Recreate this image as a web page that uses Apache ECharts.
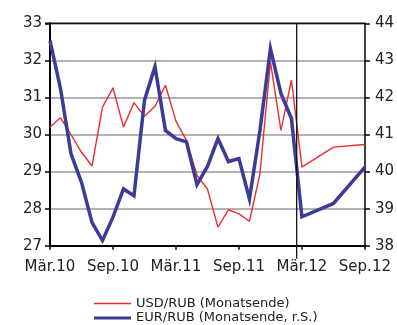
<!DOCTYPE html>
<html>
<head>
<meta charset="utf-8">
<script src="https://cdn.jsdelivr.net/npm/echarts@6/dist/echarts.min.js"></script>
<style>
  html, body { margin: 0; padding: 0; background: #fff; }
  #chart { width: 397px; height: 325px; }
</style>
</head>
<body>
<div id="chart"></div>
<script>
// Month offsets from March 2010 (monthly history, then quarterly outlook)
const monthOffset = [0, 1, 2, 3, 4, 5, 6, 7, 8, 9, 10, 11, 12, 13, 14, 15, 16, 17, 18, 19, 20, 21, 22, 23, 24, 27, 30];

// USD/RUB, end of month (left axis)
const usdRub = [30.20, 30.45, 30.00, 29.52, 29.15, 30.74, 31.26, 30.20, 30.86, 30.49, 30.76, 31.33, 30.36,
                29.84, 28.90, 28.53, 27.50, 27.97, 27.86, 27.66, 28.94, 31.96, 30.11, 31.47, 29.12, 29.66, 29.73];

// EUR/RUB, end of month (right axis)
const eurRub = [43.53, 42.24, 40.48, 39.71, 38.63, 38.14, 38.77, 39.53, 39.35, 41.92, 42.83, 41.11, 40.89,
                40.80, 39.65, 40.14, 40.89, 40.27, 40.35, 39.26, 41.11, 43.32, 42.11, 41.43, 38.78, 39.14, 40.12];

// x-axis tick labels, one every six months
const tickLabels = ['Mär.10', 'Sep.10', 'Mär.11', 'Sep.11', 'Mär.12', 'Sep.12'];

// boundary between history and outlook (month offset)
const outlookStart = 23.5;

const seriesNames = ['USD/RUB (Monatsende)', 'EUR/RUB (Monatsende, r.S.)'];

const FONT = 'DejaVu Sans';
const chart = echarts.init(document.getElementById('chart'), null, { renderer: 'canvas' });

const pairs = (vals) => vals.map((v, i) => [monthOffset[i], v]);

chart.setOption({
  animation: false,
  backgroundColor: '#ffffff',
  grid: { left: 50, right: 30.3, top: 23.3, bottom: 79.3, show: false },
  xAxis: {
    type: 'value', min: 0, max: 30, interval: 6,
    axisLine: { show: true, lineStyle: { color: '#000', width: 2 } },
    axisTick: { show: true, length: 4, lineStyle: { color: '#000', width: 1.5 } },
    axisLabel: {
      margin: 14, color: '#222', fontFamily: FONT, fontSize: 15,
      formatter: (v) => tickLabels[Math.round(v / 6)] || ''
    },
    splitLine: { show: false }
  },
  yAxis: [
    {
      type: 'value', min: 27, max: 33, interval: 1, position: 'left',
      axisLine: { show: true, lineStyle: { color: '#000', width: 2 } },
      axisTick: { show: true, length: 5, lineStyle: { color: '#000', width: 1.5 } },
      axisLabel: { margin: 8, color: '#222', fontFamily: FONT, fontSize: 15 },
      splitLine: { show: true, lineStyle: { color: '#9a9a9a', width: 1.5 } }
    },
    {
      type: 'value', min: 38, max: 44, interval: 1, position: 'right',
      axisLine: { show: true, lineStyle: { color: '#000', width: 1.5 } },
      axisTick: { show: true, length: 5, lineStyle: { color: '#000', width: 1.5 } },
      axisLabel: { margin: 10, color: '#222', fontFamily: FONT, fontSize: 15 },
      splitLine: { show: false }
    }
  ],
  legend: [
    {
      data: [seriesNames[0]], left: 89, top: 292, orient: 'vertical',
      icon: 'rect', itemWidth: 37, itemHeight: 1.5, itemGap: 0,
      textStyle: { color: '#222', fontFamily: FONT, fontSize: 13 }
    },
    {
      data: [seriesNames[1]], left: 89, top: 306.5, orient: 'vertical',
      icon: 'rect', itemWidth: 37, itemHeight: 3, itemGap: 0,
      textStyle: { color: '#222', fontFamily: FONT, fontSize: 13 }
    }
  ],
  series: [
    {
      name: seriesNames[0], type: 'line', yAxisIndex: 0,
      data: pairs(usdRub), showSymbol: false, symbol: 'none',
      lineStyle: { color: '#ec2e2e', width: 1.4 }, itemStyle: { color: '#ec2e2e' },
      z: 3
    },
    {
      name: seriesNames[1], type: 'line', yAxisIndex: 1,
      data: pairs(eurRub), showSymbol: false, symbol: 'none',
      lineStyle: { color: '#3b3b98', width: 3.5, join: 'miter' }, itemStyle: { color: '#3b3b98' },
      z: 4
    }
  ]
});

// top border of the plot area and the history/outlook divider, placed via the axis scales
function drawFrame() {
  const tl = chart.convertToPixel({ xAxisIndex: 0, yAxisIndex: 0 }, [0, 33]);
  const br = chart.convertToPixel({ xAxisIndex: 0, yAxisIndex: 0 }, [30, 27]);
  const dx = chart.convertToPixel({ xAxisIndex: 0 }, outlookStart);
  chart.setOption({
    graphic: [
      {
        type: 'line', z: 10,
        shape: { x1: tl[0] - 5, y1: tl[1], x2: br[0], y2: tl[1] },
        style: { stroke: '#111', lineWidth: 1.5 }
      },
      {
        type: 'line', z: 10,
        shape: { x1: dx, y1: tl[1], x2: dx, y2: br[1] + 13 },
        style: { stroke: '#111', lineWidth: 1.3 }
      }
    ]
  });
}
drawFrame();
</script>
</body>
</html>
